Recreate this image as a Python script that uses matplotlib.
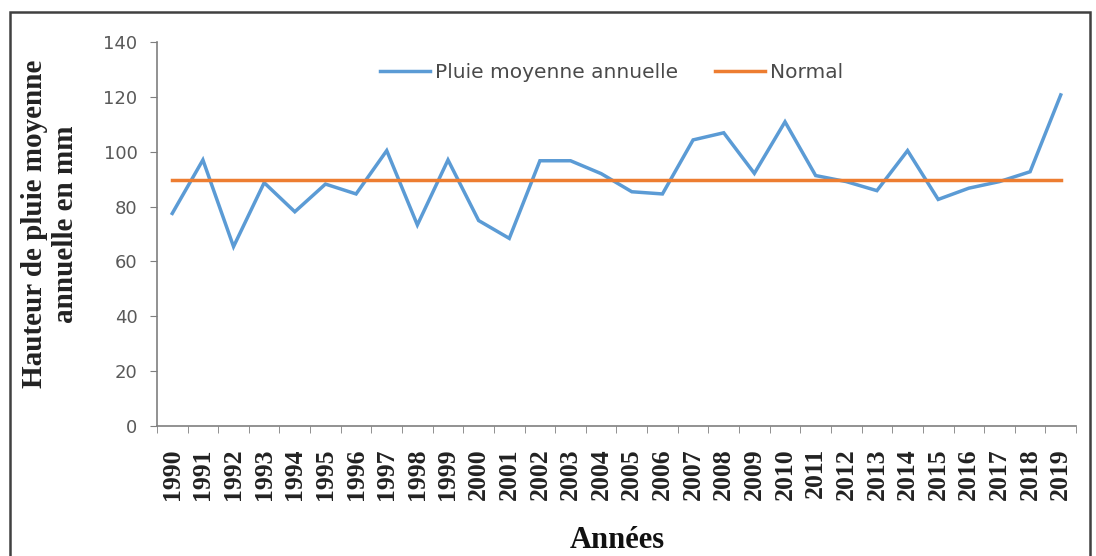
import numpy as np
from matplotlib import pyplot as plt
from matplotlib.patches import Rectangle

# Années et pluie moyenne annuelle (mm)
annees = list(range(1990, 2020))
pluie = [77.5, 97.0, 65.4, 88.7, 78.1, 88.2, 84.6, 100.4, 73.3, 97.0,
         74.9, 68.4, 96.7, 96.7, 92.0, 85.4, 84.6, 104.3, 106.9, 92.1,
         110.9, 91.3, 89.1, 85.8, 100.4, 82.6, 86.7, 89.1, 92.7, 120.7]
normale = [89.7] * len(annees)

bleu = "#5B9BD5"
orange = "#ED7D31"
gris = "#595959"

fig = plt.figure(figsize=(10.96, 5.56), dpi=100)
ax = fig.add_axes([0.1432, 0.2338, 0.8386, 0.6907])

x = np.arange(len(annees))
ax.plot(x, pluie, color=bleu, lw=2.5, label="Pluie moyenne annuelle",
        solid_joinstyle="miter")
ax.plot(x, normale, color=orange, lw=2.5, label="Normal")

ax.set_xlim(-0.5, len(annees) - 0.5)
ax.set_ylim(0, 140)
ax.set_yticks(np.arange(0, 141, 20))

# étiquettes au centre, graduations entre les catégories
ax.set_xticks(x)
ax.set_xticklabels([str(a) for a in annees], rotation=90,
                   fontfamily="Liberation Serif", fontweight="bold",
                   fontsize=18.5, color="#222222")
ax.set_xticks(np.arange(-0.5, len(annees)), minor=True)
ax.tick_params(axis="x", which="major", length=0, pad=16)
ax.tick_params(axis="x", which="minor", length=5, color="#7f7f7f", direction="out")
ax.tick_params(axis="y", length=5, color="#7f7f7f", pad=9,
               labelsize=13, labelcolor=gris)

for s in ["top", "right"]:
    ax.spines[s].set_visible(False)
for s in ["left", "bottom"]:
    ax.spines[s].set_color("#7f7f7f")
    ax.spines[s].set_linewidth(1.2)

leg = fig.legend(loc="center", bbox_to_anchor=(0.558, 0.869), ncol=2,
                 frameon=False, fontsize=14.5, handlelength=2.5,
                 handletextpad=0.25, columnspacing=1.8, borderpad=0)
for t in leg.get_texts():
    t.set_color("#4a4a4a")

fig.text(50 / 1096, 1 - 224 / 556, "Hauteur de pluie moyenne\nannuelle en mm",
         rotation=90, ha="center", va="center", multialignment="center",
         fontfamily="Liberation Serif", fontweight="bold", fontsize=21,
         color="#222222")
fig.text(617 / 1096, 0.028, "Années", ha="center", va="center",
         fontfamily="Liberation Serif", fontweight="bold", fontsize=22,
         color="#111111")

# cadre autour du graphique
fig.patches.append(Rectangle((10 / 1096, -0.1), 1080 / 1096, 1.1 - 12 / 556,
                             transform=fig.transFigure, fill=False,
                             edgecolor="#404040", lw=1.8))

fig.savefig("out.png", dpi=100)
